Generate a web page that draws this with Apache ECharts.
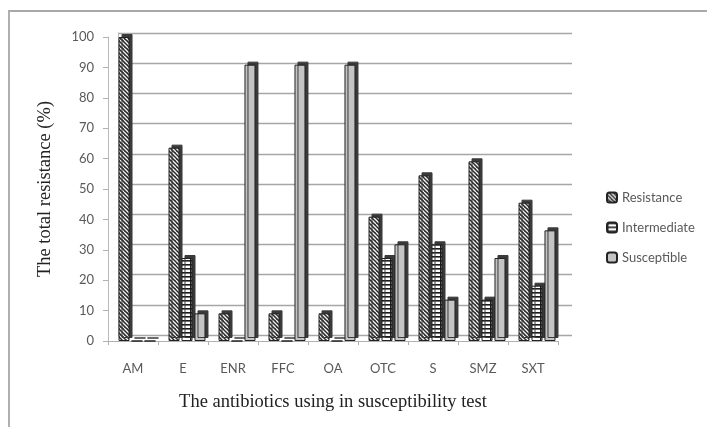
<!DOCTYPE html>
<html><head><meta charset="utf-8">
<script src="https://cdn.jsdelivr.net/npm/echarts@6/dist/echarts.min.js"></script>
<style>html,body{margin:0;padding:0;background:#fff}#c{width:707px;height:427px}
#frame{position:absolute;left:8px;top:10px;width:705px;height:420px;border-left:2px solid #b0b0b0;border-top:2px solid #a8a8a8;pointer-events:none}</style>
</head><body><div id="c"></div><div id="frame"></div>
<script>
const categories = ['AM','E','ENR','FFC','OA','OTC','S','SMZ','SXT'];
const resistance   = [100, 63.6, 9.1, 9.1, 9.1, 40.9, 54.5, 59.1, 45.5];
const intermediate = [0, 27.3, 0, 0, 0, 27.3, 31.8, 13.6, 18.2];
const susceptible  = [0, 9.1, 90.9, 90.9, 90.9, 31.8, 13.6, 27.3, 36.4];
const yTicks = [0,10,20,30,40,50,60,70,80,90,100];

function pat(draw, w, h){
  const c = document.createElement('canvas'); c.width=w; c.height=h;
  const g = c.getContext('2d'); draw(g,w,h); return c;
}
const resPat = pat((g,w,h)=>{
  g.fillStyle='#2a2a2a'; g.fillRect(0,0,w,h);
  g.strokeStyle='#f2f2f2'; g.lineWidth=1.3;
  for(let k=-h;k<w+h;k+=4){ g.beginPath(); g.moveTo(k,0); g.lineTo(k+h,h); g.stroke(); }
},8,8);
const intPat = pat((g,w,h)=>{
  g.fillStyle='#ffffff'; g.fillRect(0,0,w,h);
  g.fillStyle='#1a1a1a'; g.fillRect(0,0,w,1.6);
  g.fillRect(0,0,1.5,h);
},10,4);
const fillR = {image: resPat, repeat:'repeat'};
const fillI = {image: intPat, repeat:'repeat'};
const fillS = '#c4c4c4';

const chart = echarts.init(document.getElementById('c'));
const font = 'Lato, "Open Sans", sans-serif';
const serif = '"Liberation Serif", "DejaVu Serif", serif';
function barSeries(name, data, fill){
  return {
    name, type:'bar', data, xAxisIndex:2, yAxisIndex:2,
    barWidth:11, barGap:'18%',
    itemStyle:{color:fill, borderColor:'#222', borderWidth:1,
      shadowColor:'#3a3a3a', shadowOffsetX:3, shadowOffsetY:-3, shadowBlur:0}
  };
}
chart.setOption({
  animation:false,
  grid:[
    {left:118, right:135, top:33, bottom:92},
    {left:108, right:149, top:37, bottom:86},
    {left:112, right:145, top:37, bottom:86}
  ],
  legend:{
    orient:'vertical', left:601, top:186, itemGap:17, itemWidth:10, itemHeight:10,
    textStyle:{fontFamily:font, fontSize:13, color:'#595959'},
    data:['Resistance','Intermediate','Susceptible']
  },
  xAxis:[
    {gridIndex:0, type:'category', data:categories, show:false},
    {gridIndex:1, type:'category', data:categories,
      name:'The antibiotics using in susceptibility test', nameLocation:'middle', nameGap:52,
      nameTextStyle:{fontFamily:serif, fontSize:18.5, color:'#222'},
      axisLine:{lineStyle:{color:'#b0b0b0'}},
      axisTick:{show:true, alignWithLabel:false, length:4, lineStyle:{color:'#b0b0b0'}},
      axisLabel:{margin:21, fontFamily:font, fontSize:13, color:'#595959'}},
    {gridIndex:2, type:'category', data:categories, show:false}
  ],
  yAxis:[
    {gridIndex:0, type:'value', min:0, max:100, interval:10, axisLabel:{show:false},
      axisLine:{show:true, lineStyle:{color:'#b8b8b8'}}, axisTick:{show:false},
      splitLine:{lineStyle:{color:'#a6a6a6', width:1.3}}},
    {gridIndex:1, type:'value', min:0, max:100, interval:10,
      name:'The total resistance (%)', nameLocation:'middle', nameGap:53,
      nameTextStyle:{fontFamily:serif, fontSize:18.5, color:'#222'},
      axisLine:{show:true, lineStyle:{color:'#b8b8b8'}},
      axisTick:{show:true, length:5, lineStyle:{color:'#b0b0b0'}},
      axisLabel:{margin:14, fontFamily:font, fontSize:13, color:'#595959',
        formatter:v=> yTicks.includes(v)? String(v):''},
      splitLine:{show:false}},
    {gridIndex:2, type:'value', min:0, max:100, interval:10, show:false, splitLine:{show:false}}
  ],
  series:[
    barSeries('Resistance', resistance, fillR),
    barSeries('Intermediate', intermediate, fillI),
    barSeries('Susceptible', susceptible, fillS)
  ]
});
</script></body></html>
